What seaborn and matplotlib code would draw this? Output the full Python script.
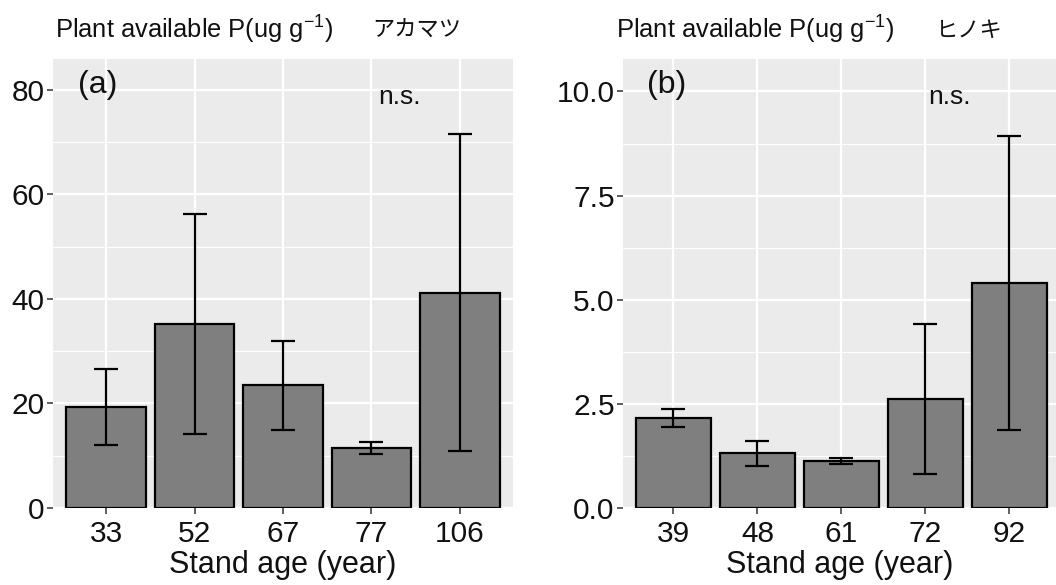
import matplotlib
matplotlib.use("Agg")
import matplotlib.pyplot as plt
import seaborn as sns
import numpy as np
import pandas as pd
from matplotlib.ticker import MultipleLocator

# ---- data ----
ages_a = ["33", "52", "67", "77", "106"]
mean_a = [19.3, 35.2, 23.5, 11.5, 41.2]
se_a = [7.2, 21.0, 8.5, 1.2, 30.3]

ages_b = ["39", "48", "61", "72", "92"]
mean_b = [2.16, 1.31, 1.13, 2.61, 5.40]
se_b = [0.22, 0.30, 0.08, 1.80, 3.53]

title_txt = "Plant available P(ug g$\\mathregular{^{-1}}$)"
title_a_jp = "アカマツ"
title_b_jp = "ヒノキ"
xlabel = "Stand age (year)"

sns.set_theme(style="darkgrid")
plt.rcParams["font.family"] = ["Liberation Sans", "Noto Sans CJK JP", "DejaVu Sans"]
plt.rcParams["mathtext.fontset"] = "custom"
plt.rcParams["mathtext.rm"] = "Liberation Sans"

W, H = 1056, 585
fig = plt.figure(figsize=(W / 100, H / 100), dpi=100)

def px_axes(l, r, t, b):
    return fig.add_axes([l / W, 1 - b / H, (r - l) / W, (b - t) / H])

ax_a = px_axes(53, 513, 59, 508)
ax_b = px_axes(623, 1056, 59, 508)

def draw(ax, ages, means, ses, ymax, major, minor, fmt, tag, xlim_r):
    df = pd.DataFrame({"age": ages, "mean": means})
    sns.barplot(data=df, x="age", y="mean", order=ages, color="#7f7f7f",
                saturation=1, edgecolor="black", linewidth=1.6, width=0.9,
                errorbar=None, ax=ax, zorder=3)
    pos = np.arange(len(ages))
    ax.errorbar(pos, means, yerr=ses, fmt="none", ecolor="black",
                elinewidth=1.6, capsize=8.5, capthick=1.6, zorder=4)
    ax.set_facecolor("#EBEBEB")
    ax.set_xlim(-0.6, xlim_r)
    ax.set_ylim(0, ymax)
    ax.yaxis.set_major_locator(MultipleLocator(major))
    ax.yaxis.set_minor_locator(MultipleLocator(minor))
    ax.yaxis.set_major_formatter(plt.FormatStrFormatter(fmt))
    ax.grid(which="major", color="white", linewidth=1.6, zorder=0)
    ax.grid(which="minor", axis="y", color="white", linewidth=0.8, zorder=0)
    ax.set_axisbelow(True)
    for s in ax.spines.values():
        s.set_visible(False)
    ax.tick_params(axis="both", which="major", length=4, width=1.1,
                   color="#333333", labelsize=21.5, labelcolor="#111111",
                   pad=2, bottom=True, left=True)
    ax.tick_params(axis="x", which="major", pad=5)
    ax.tick_params(axis="y", which="minor", length=0)
    ax.set_xlabel(xlabel, fontsize=22, color="#111111", labelpad=1)
    ax.set_ylabel("")
    ax.text(0.055, 0.942, tag, transform=ax.transAxes, fontsize=23,
            ha="left", va="center", color="#111111")
    ax.text(0.753, 0.915, "n.s.", transform=ax.transAxes, fontsize=19,
            ha="center", va="center", color="#111111")

draw(ax_a, ages_a, mean_a, se_a, 85.9, 20, 10, "%d", "(a)", 4.6)
draw(ax_b, ages_b, mean_b, se_b, 10.78, 2.5, 1.25, "%.1f", "(b)", 4.555)

fig.text(55 / W, 1 - 30 / H, title_txt, fontsize=18.4, ha="left", va="center", color="#111111")
fig.text(372 / W, 1 - 30 / H, title_a_jp, fontsize=16, ha="left", va="center", color="#111111",
         family=["Noto Sans CJK JP", "DejaVu Sans"])
fig.text(616 / W, 1 - 30 / H, title_txt, fontsize=18.4, ha="left", va="center", color="#111111")
fig.text(936 / W, 1 - 30 / H, title_b_jp, fontsize=16, ha="left", va="center", color="#111111",
         family=["Noto Sans CJK JP", "DejaVu Sans"])

fig.savefig("out.png", dpi=100, facecolor="white")
